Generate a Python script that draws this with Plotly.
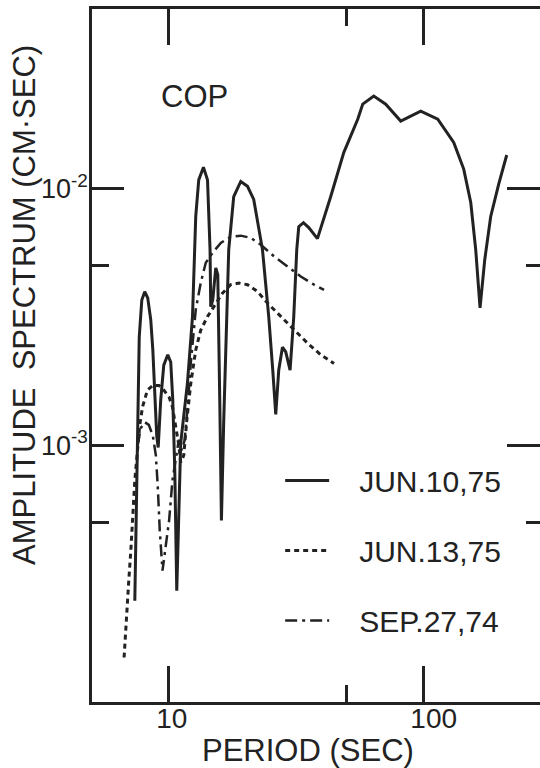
import numpy as np
import plotly.graph_objects as go

# ---- data (period in s, amplitude in cm*s) ----
jun10_period = [7.36, 7.49, 7.66, 7.84, 8.05, 8.27, 8.50, 8.66, 8.81, 8.97, 9.09,
                9.30, 9.56, 9.91, 10.18, 10.37, 10.56, 10.75, 11.14, 11.84, 12.39,
                12.76, 13.11, 13.68, 14.19, 14.39, 14.52, 14.61, 14.88, 15.29, 15.57,
                15.85, 16.09, 16.43, 16.73, 17.19, 17.98, 19.16, 20.36, 21.54, 23.31,
                24.67, 25.58, 26.28, 27.0, 27.92, 28.76, 29.91, 30.92, 31.77, 32.35,
                33.75, 35.40, 38.29, 43.18, 48.57, 55.10, 57.65, 63.68, 70.96, 81.24,
                97.32, 113.5, 131.1, 143.5, 152.9, 159.9, 166.3, 173.5, 183.1, 196.8, 211.6]
jun10_amp = [2.48e-4, 7.99e-4, 2.64e-3, 3.68e-3, 3.96e-3, 3.75e-3, 3.08e-3, 2.35e-3, 1.50e-3,
             1.09e-3, 9.8e-4, 1.50e-3, 2.05e-3, 2.25e-3, 2.11e-3, 1.50e-3, 7.99e-4, 2.71e-4,
             1.02e-3, 1.75e-3, 3.16e-3, 7.78e-3, 1.08e-2, 1.21e-2, 1.08e-2, 7.78e-3, 5.78e-3,
             3.46e-3, 3.68e-3, 4.91e-3, 4.61e-3, 1.50e-3, 5.09e-4, 1.25e-3, 2.35e-3, 5.78e-3,
             9.30e-3, 1.065e-2, 1.02e-2, 9.06e-3, 5.78e-3, 3.16e-3, 1.96e-3, 1.32e-3, 1.96e-3,
             2.41e-3, 2.31e-3, 1.96e-3, 3.16e-3, 5.78e-3, 7.10e-3, 7.36e-3, 7.04e-3, 6.38e-3,
             9.30e-3, 1.38e-2, 1.86e-2, 2.13e-2, 2.29e-2, 2.13e-2, 1.83e-2, 2.00e-2, 1.86e-2,
             1.51e-2, 1.19e-2, 8.82e-3, 5.78e-3, 3.43e-3, 5.28e-3, 7.78e-3, 1.04e-2, 1.35e-2]

jun13_period = [6.68, 6.83, 6.97, 7.10, 7.20, 7.36, 7.54, 7.70, 7.89, 8.25, 8.66, 9.16,
                9.56, 10.03, 10.34, 10.65, 10.95, 11.14, 11.45, 11.77, 12.20, 12.76, 13.35,
                14.19, 15.29, 16.24, 17.50, 18.87, 20.36, 22.28, 24.38, 27.49, 31.00, 34.99,
                39.47, 44.48]
jun13_amp = [1.49e-4, 2.21e-4, 2.97e-4, 3.89e-4, 5.09e-4, 7.30e-4, 9.56e-4, 1.20e-3, 1.41e-3,
             1.64e-3, 1.71e-3, 1.71e-3, 1.64e-3, 1.54e-3, 1.41e-3, 1.20e-3, 1.0e-3, 8.58e-4,
             9.14e-4, 1.25e-3, 1.74e-3, 2.35e-3, 2.81e-3, 3.17e-3, 3.58e-3, 3.91e-3, 4.22e-3,
             4.28e-3, 4.22e-3, 3.97e-3, 3.58e-3, 3.17e-3, 2.81e-3, 2.50e-3, 2.25e-3, 2.08e-3]

sep27_period = [7.56, 7.76, 8.05, 8.35, 8.66, 8.90, 9.05, 9.22, 9.45, 9.73, 10.03, 10.34,
                10.65, 10.95, 11.25, 11.55, 11.87, 12.20, 12.76, 13.35, 13.97, 14.84, 16.0,
                17.5, 19.16, 20.97, 22.95, 25.88, 29.21, 32.94, 37.13, 40.64]
sep27_amp = [1.0e-3, 1.165e-3, 1.23e-3, 1.20e-3, 1.09e-3, 9.14e-4, 6.98e-4, 4.66e-4, 3.25e-4,
             4.07e-4, 5.09e-4, 7.30e-4, 8.98e-4, 1.05e-3, 9.56e-4, 1.05e-3, 1.43e-3, 2.09e-3,
             3.37e-3, 4.29e-3, 5.14e-3, 5.61e-3, 6.14e-3, 6.48e-3, 6.55e-3, 6.42e-3, 6.04e-3,
             5.44e-3, 4.97e-3, 4.54e-3, 4.22e-3, 4.03e-3]

series_names = ["JUN.10,75", "JUN.13,75", "SEP.27,74"]
x_tick_vals = [10, 100]
x_tick_text = ["10", "\u2002100"]
x_minor_vals = [50]
y_tick_vals = [1e-3, 1e-2]
y_tick_text = ["10<sup>-3</sup>", "10<sup>-2</sup>"]
y_minor_vals = [5e-4, 5e-3]

INK = "#222222"
FONT = "Liberation Sans"
pad = "\u00a0\u00a0\u00a0"

fig = go.Figure()
fig.add_trace(go.Scatter(x=jun10_period, y=jun10_amp, mode="lines", name=pad + series_names[0],
                         legendgroup="a", line=dict(color=INK, width=3)))
fig.add_trace(go.Scatter(x=jun13_period, y=jun13_amp, mode="lines", name=pad + series_names[1],
                         legendgroup="b", line=dict(color=INK, width=3, dash="5px,4px")))
fig.add_trace(go.Scatter(x=sep27_period, y=sep27_amp, mode="lines", name=pad + series_names[2],
                         legendgroup="c", yaxis="y2",
                         line=dict(color=INK, width=2.5, dash="12px,5px,3px,5px")))

xr = [np.log10(5), 2.456]
yr = [-4, np.log10(0.05)]

fig.update_layout(
    width=540, height=768,
    margin=dict(l=92, r=0, t=9, b=66),
    paper_bgcolor="white", plot_bgcolor="white",
    font=dict(family=FONT, color=INK, size=28),
    showlegend=True,
    legend=dict(x=0.42, xanchor="left", y=0.357, yanchor="top",
                bgcolor="rgba(0,0,0,0)", borderwidth=0,
                font=dict(family=FONT, size=30, color=INK),
                itemwidth=44, tracegroupgap=28),
    xaxis=dict(type="log", range=xr, showgrid=False, zeroline=False,
               showline=True, linecolor=INK, linewidth=2.5, mirror="ticks",
               ticks="inside", ticklen=36, tickwidth=2.5, tickcolor=INK,
               tickmode="array", tickvals=x_tick_vals, ticktext=x_tick_text,
               ticklabelshift=3, ticklabelstandoff=-10,
               tickfont=dict(family=FONT, size=28, color=INK),
               minor=dict(tickmode="array", tickvals=x_minor_vals, ticks="inside",
                          ticklen=17, tickwidth=2.5, tickcolor=INK, showgrid=False)),
    yaxis=dict(type="log", range=yr, showgrid=False, zeroline=False,
               showline=True, linecolor=INK, linewidth=2.5, mirror=False,
               ticks="inside", ticklen=32, tickwidth=2.5, tickcolor=INK,
               tickmode="array", tickvals=y_tick_vals, ticktext=y_tick_text,
               ticklabelstandoff=-4,
               tickfont=dict(family=FONT, size=27, color=INK),
               minor=dict(tickmode="array", tickvals=y_minor_vals, ticks="inside",
                          ticklen=17, tickwidth=2.5, tickcolor=INK, showgrid=False)),
    yaxis2=dict(type="log", range=yr, overlaying="y", side="right", anchor="x",
                showgrid=False, zeroline=False, showline=False,
                ticks="inside", ticklen=33, tickwidth=2.5, tickcolor=INK,
                tickmode="array", tickvals=y_tick_vals, showticklabels=False,
                minor=dict(tickmode="array", tickvals=y_minor_vals, ticks="inside",
                           ticklen=14, tickwidth=2.5, tickcolor=INK, showgrid=False)),
)

fig.add_annotation(text="COP", xref="paper", yref="paper", x=0.2277, y=0.8737,
                   xanchor="center", yanchor="middle", showarrow=False,
                   font=dict(family=FONT, size=31, color=INK))
fig.add_annotation(text="AMPLITUDE  SPECTRUM (CM\u00b7SEC)", xref="paper", yref="paper",
                   x=-0.1496, y=0.5729, xanchor="center", yanchor="middle",
                   textangle=-90, showarrow=False,
                   font=dict(family=FONT, size=31, color=INK))
fig.add_annotation(text="PERIOD (SEC)", xref="paper", yref="paper",
                   x=0.482, y=-0.0693, xanchor="center", yanchor="middle",
                   showarrow=False, font=dict(family=FONT, size=31, color=INK))

fig.write_html("out.html")
